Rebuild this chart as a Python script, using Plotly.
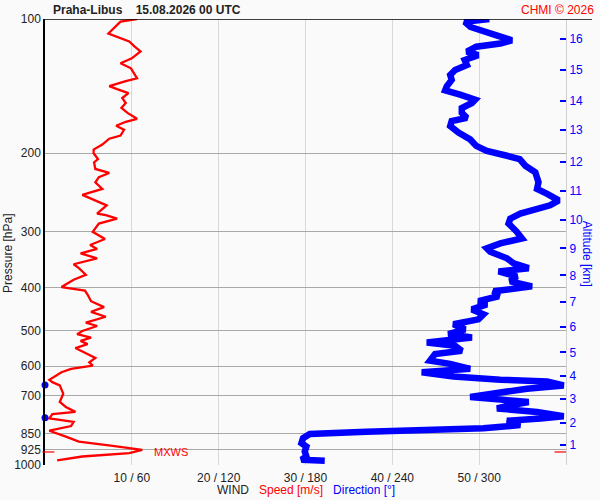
import math
import plotly.graph_objects as go

# wind speed profile [m/s] vs pressure [hPa]
speed_p = [100, 101.4, 107.8, 109.5, 112.3, 115.2, 118.2, 122.5, 125.7, 129.0,
           135.8, 137.8, 141.4, 143.6, 146.6, 150.4, 154.3, 158.3, 162.4, 167.4,
           170.0, 173.5, 177.1, 182.6, 185.5, 191.2, 196.2, 200, 206.2, 209.7,
           216.9, 221.4, 226.3, 232.3, 240.4, 247.9, 255.0, 261.7, 273.2, 275.4,
           280.3, 287.5, 300.0, 311.4, 321.1, 327.8, 335.3, 344.0, 354.7, 362.0,
           374.5, 384.2, 399.0, 406.4, 414.8, 429.3, 442.6, 453.4, 465.2, 479.7,
           487.9, 500.5, 509.0, 517.9, 526.8, 535.8, 546.8, 559.3, 575.4, 588.5,
           598.5, 608.7, 619.4, 644.0, 652.0, 663.1, 691.8, 722.2, 741.0, 760.2,
           769.2, 786.3, 800.0, 817.9, 837.8, 864.0, 886.4, 906.1, 924.7, 940.5,
           957.0, 976.8]
speed = [10.6, 8.7, 7.3, 8.2, 9.7, 10.3, 11.0, 10.0, 8.7, 9.9,
         10.6, 9.3, 7.4, 8.3, 9.6, 8.9, 9.3, 8.8, 9.5, 10.6,
         9.3, 8.2, 9.1, 8.7, 7.4, 6.6, 5.6, 5.6, 6.1, 5.65,
         5.8, 7.4, 6.2, 5.8, 6.6, 4.3, 5.8, 7.1, 6.0, 7.0,
         8.3, 6.2, 5.5, 6.9, 5.2, 6.0, 4.1, 6.0, 3.3, 3.9,
         4.7, 3.3, 1.9, 4.6, 4.9, 5.3, 6.8, 5.3, 7.0, 4.7,
         6.0, 4.3, 3.7, 5.3, 4.1, 4.9, 3.5, 4.5, 5.8, 5.1,
         5.5, 3.0, 1.9, 0.5, 0.85, 1.7, 2.1, 1.7, 2.4, 3.5,
         0.85, 0.5, 3.3, 3.0, 0.5, 2.4, 3.9, 7.8, 11.2, 9.7,
         4.3, 1.4]

# wind direction profile [deg] vs pressure [hPa]
dir_p = [100, 101.5, 104.2, 106.9, 108.8, 111.6, 113.5, 115.4, 118.4, 120.5,
         123.6, 126.8, 130.1, 133.5, 136.9, 141.6, 144.5, 147.8, 151.7, 154.3,
         158.3, 162.4, 166.6, 169.4, 173.8, 179.8, 186.2, 192.5, 197.5, 202.6,
         206.2, 213.3, 220.7, 232.3, 240.4, 246.6, 255.0, 261.7, 268.5, 273.2,
         280.3, 287.5, 300.0, 310.5, 318.5, 326.8, 332.4, 344.0, 352.9, 362.0,
         368.1, 377.7, 387.6, 397.6, 407.9, 418.5, 429.3, 436.5, 447.9, 459.5,
         471.4, 483.6, 496.2, 509.0, 517.9, 531.4, 540.4, 554.5, 564.0, 583.4,
         593.3, 608.7, 619.4, 633.2, 644.0, 649.6, 663.1, 674.4, 689.7, 704.0,
         713.4, 722.2, 734.5, 747.0, 760.2, 777.1, 786.3, 796.0, 813.7, 827.6,
         842.1, 852.1, 871.0, 893.6, 909.3, 932.8, 957.0, 973.3, 978.3]
direction = [307, 290, 294, 303, 312, 322.6, 314.6, 298, 291.5, 299.3,
             290, 291.5, 283.4, 280, 281, 277.6, 276.5, 286.8, 297.2, 295,
             288, 288, 291.5, 281, 280, 285.7, 293.8, 298, 305.3, 319.2,
             328, 331.9, 338.8, 341, 340, 347, 355, 349, 337.6, 328.4,
             321.5, 320.3, 326, 329.6, 314.6, 305.3, 307.6, 319.2, 323.8, 334.2,
             313.4, 326, 321.5, 336.5, 310, 313.4, 299.5, 305.3, 295, 303,
             299.5, 282.2, 290.3, 278.7, 295, 263.8, 283.4, 288, 269.5, 266,
             280, 293.8, 260.3, 282.2, 314.6, 347, 358.4, 333, 312.3, 293.8,
             314.6, 334.2, 321.5, 312.3, 340, 358.4, 342.3, 319.2, 328.4, 303,
             222.2, 183, 178.3, 177.2, 180.6, 179.5, 180.6, 177.2, 193.3]

# direction wrap points (360 -> 0)
wrap_p = [662, 784]
wrap_dir = [0, 0]

# max wind level
mxws_p = 935
mxws_speed = 11.2

pressure_ticks = [100, 200, 300, 400, 500, 600, 700, 850, 925, 1000]
speed_ticks = [10, 20, 30, 40, 50]
wind_ticklabels = ["10 / 60", "20 / 120", "30 / 180", "40 / 240", "50 / 300"]
km_labels = [str(k) for k in range(1, 17)]
km_pressure = [901.4, 804.3, 712.3, 632.3, 559.2, 490.2, 430.3, 375.7,
               326.8, 281.8, 242.8, 208.9, 177.4, 152.4, 130.1, 110.6]

FONT = "Arial, Liberation Sans, sans-serif"
BLUE = "#0000ff"
RED = "#ff0000"

fig = go.Figure()

fig.add_trace(go.Scatter(
    x=direction, y=dir_p, xaxis="x2", yaxis="y",
    mode="lines", line=dict(color=BLUE, width=6.5),
    hoverinfo="skip"))
fig.add_trace(go.Scatter(
    x=wrap_dir, y=wrap_p, xaxis="x2", yaxis="y",
    mode="markers", marker=dict(color=BLUE, size=7),
    cliponaxis=False, hoverinfo="skip"))
fig.add_trace(go.Scatter(
    x=speed, y=speed_p, xaxis="x", yaxis="y",
    mode="lines", line=dict(color=RED, width=2.3),
    hoverinfo="skip"))
# invisible trace to activate the altitude axis
fig.add_trace(go.Scatter(
    x=[0], y=[500], xaxis="x", yaxis="y2",
    mode="markers", marker=dict(opacity=0), hoverinfo="skip"))

fig.update_layout(
    width=600, height=500,
    margin=dict(l=45, r=34, t=15, b=35),
    paper_bgcolor="#fafafa", plot_bgcolor="#fafafa",
    showlegend=False,
    font=dict(family=FONT, size=12, color="#222"),
    xaxis=dict(range=[0, 60], tickvals=speed_ticks, ticktext=wind_ticklabels,
               showgrid=True, gridcolor="#d9d9d9", gridwidth=1,
               zeroline=False, showline=False, ticks="", ticklabelstandoff=4,
               tickfont=dict(size=12, color="#222")),
    xaxis2=dict(range=[0, 360], overlaying="x", visible=False),
    yaxis=dict(type="log", range=[3, 2], tickvals=pressure_ticks,
               ticktext=[str(p) for p in pressure_ticks],
               showgrid=True, gridcolor="#a8a8a8", gridwidth=1,
               zeroline=False, showline=True, linecolor="#000", linewidth=1.5,
               ticks="", tickfont=dict(size=12, color="#222")),
    yaxis2=dict(type="log", range=[3, 2], overlaying="y", side="right",
                tickvals=km_pressure, ticktext=km_labels,
                ticks="inside", ticklen=6, tickcolor=BLUE, tickwidth=1.5,
                tickfont=dict(size=12, color=BLUE),
                showgrid=False, zeroline=False,
                showline=True, linecolor="#d0d0d0", linewidth=1),
)

shapes = [
    # black top border
    dict(type="line", xref="paper", yref="y", x0=0, x1=1.05, y0=100, y1=100,
         line=dict(color="#000", width=1.5)),
    # max wind markers
    dict(type="line", xref="paper", yref="y", x0=-0.005, x1=0.018,
         y0=mxws_p, y1=mxws_p, line=dict(color=RED, width=1.2)),
    dict(type="line", xref="paper", yref="y", x0=0.978, x1=1.0,
         y0=mxws_p, y1=mxws_p, line=dict(color=RED, width=1.2)),
]
fig.update_layout(shapes=shapes)

fig.add_annotation(x=0.011, y=1.0, xref="paper", yref="paper",
                   yanchor="bottom", xanchor="left", yshift=0, showarrow=False,
                   text="<b>Praha-Libus    15.08.2026 00 UTC</b>",
                   font=dict(size=12, color="#222"))
fig.add_annotation(x=1.058, y=1.0, xref="paper", yref="paper",
                   yanchor="bottom", xanchor="right", yshift=0, showarrow=False,
                   text="CHMI © 2026", font=dict(size=12, color=RED))
# annotation positions on a log axis are given in log10 units
fig.add_annotation(x=mxws_speed, y=math.log10(mxws_p), xref="x", yref="y",
                   xanchor="left", yanchor="middle", xshift=10, showarrow=False,
                   text="MXWS", font=dict(size=11, color=RED))
fig.add_annotation(x=0.5, y=-0.057, xref="paper", yref="paper",
                   xanchor="center", yanchor="middle", showarrow=False,
                   text=("WIND   <span style='color:#ff0000'>Speed [m/s]</span>"
                         "   <span style='color:#0000ff'>Direction [°]</span>"),
                   font=dict(size=12, color="#222"))
fig.add_annotation(x=-0.0715, y=0.475, xref="paper", yref="paper",
                   xanchor="center", yanchor="middle",
                   showarrow=False, textangle=-90,
                   text="Pressure [hPa]", font=dict(size=12, color="#222"))
fig.add_annotation(x=1.042, y=0.474, xref="paper", yref="paper",
                   xanchor="center", yanchor="middle",
                   showarrow=False, textangle=90,
                   text="Altitude [km]", font=dict(size=12, color=BLUE))

fig.write_html("out.html", config={"displayModeBar": False},
               post_script="document.body.style.margin='0';")
